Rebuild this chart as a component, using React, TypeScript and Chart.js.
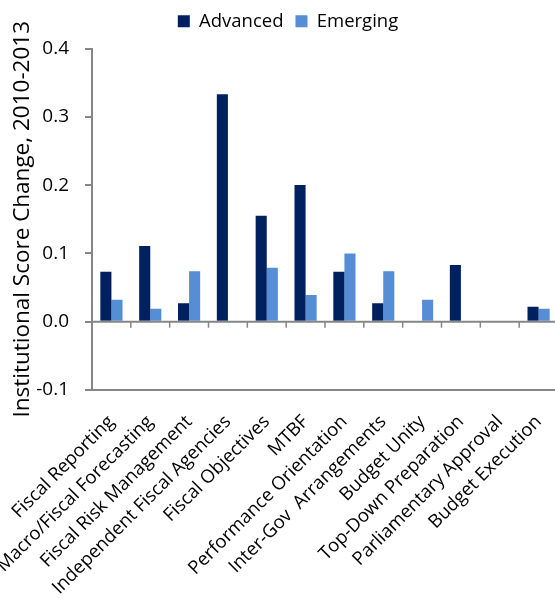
import React, { useEffect, useRef } from "react";
import { Chart, registerables } from "chart.js";

Chart.register(...registerables);

const categories = [
  "Fiscal Reporting",
  "Macro/Fiscal Forecasting",
  "Fiscal Risk Management",
  "Independent Fiscal Agencies",
  "Fiscal Objectives",
  "MTBF",
  "Performance Orientation",
  "Inter-Gov  Arrangements",
  "Budget Unity",
  "Top-Down Preparation",
  "Parliamentary Approval",
  "Budget Execution",
];
const advanced = [0.073, 0.111, 0.027, 0.333, 0.155, 0.2, 0.073, 0.027, 0, 0.083, 0, 0.022];
const emerging = [0.032, 0.019, 0.074, 0, 0.079, 0.039, 0.1, 0.074, 0.032, 0, 0, 0.019];
const yTicks = [-0.1, 0.0, 0.1, 0.2, 0.3, 0.4];

const AXIS = "#868686";
const FONT = "'Open Sans', 'Noto Sans', sans-serif";

const zeroLine = {
  id: "zeroLine",
  afterDatasetsDraw(chart: any) {
    const { ctx, chartArea, scales } = chart;
    const x = scales.x;
    const y = scales.y;
    const y0 = y.getPixelForValue(0);
    const step = x.getPixelForValue(1) - x.getPixelForValue(0);
    ctx.save();
    ctx.strokeStyle = AXIS;
    ctx.lineWidth = 2;
    ctx.beginPath();
    ctx.moveTo(chartArea.left, y0);
    ctx.lineTo(chartArea.right, y0);
    ctx.stroke();
    ctx.lineWidth = 1.5;
    for (let i = 0; i < categories.length; i++) {
      const bx = x.getPixelForValue(i) + step / 2;
      ctx.beginPath();
      ctx.moveTo(bx, y0);
      ctx.lineTo(bx, y0 + 6);
      ctx.stroke();
    }
    ctx.restore();
  },
};

const legendSpace = {
  id: "legendSpace",
  beforeInit(chart: any) {
    const orig = chart.legend.fit;
    chart.legend.fit = function () {
      orig.call(this);
      this.height += 8;
    };
  },
};

export default function App() {
  const ref = useRef<HTMLCanvasElement>(null);
  useEffect(() => {
    if (!ref.current) return;
    const chart = new Chart(ref.current, {
      type: "bar",
      data: {
        labels: categories,
        datasets: [
          { label: "Advanced", data: advanced, backgroundColor: "#002060" },
          { label: "Emerging", data: emerging, backgroundColor: "#558ED5" },
        ],
      },
      options: {
        animation: false,
        responsive: false,
        maintainAspectRatio: false,
        datasets: { bar: { categoryPercentage: 0.571, barPercentage: 1 } },
        layout: { padding: { left: 18, right: 0, top: 0, bottom: 0 } },
        plugins: {
          legend: {
            position: "top",
            labels: {
              boxWidth: 12,
              boxHeight: 12,
              color: "#000",
              font: { family: FONT, size: 18.5 },
              padding: 12,
            },
          },
          tooltip: { enabled: false },
        },
        scales: {
          x: {
            grid: { display: true, drawOnChartArea: false, drawTicks: false },
            border: { display: true, color: AXIS, width: 2 },
            ticks: {
              color: "#000",
              font: { family: FONT, size: 18.5 },
              maxRotation: 45,
              minRotation: 45,
              padding: 21,
              autoSkip: false,
            },
            afterFit(scale: any) {
              scale.height = 209;
              scale.paddingLeft = 0;
              scale.paddingRight = 0;
            },
          },
          y: {
            min: yTicks[0],
            max: yTicks[yTicks.length - 1],
            afterBuildTicks(scale: any) {
              scale.ticks = yTicks.map((v) => ({ value: v }));
            },
            afterFit(scale: any) {
              scale.width = 74;
            },
            grid: { display: true, drawOnChartArea: false, drawTicks: true, tickLength: 7, color: AXIS, lineWidth: 2 },
            border: { display: true, color: AXIS, width: 2 },
            ticks: {
              color: "#000",
              font: { family: FONT, size: 19 },
              padding: 16,
              callback: (v: any) => Number(v).toFixed(1),
            },
            title: {
              display: true,
              text: "Institutional Score Change, 2010-2013",
              color: "#000",
              font: { family: FONT, size: 22.5 },
              padding: { top: -9, bottom: 0 },
            },
          },
        },
      },
      plugins: [zeroLine, legendSpace],
    });
    return () => chart.destroy();
  }, []);
  return (
    <div style={{ position: "absolute", left: 0, top: 0, width: 555, height: 599, overflow: "hidden", background: "#fff" }}>
      <canvas ref={ref} width={558} height={599} style={{ display: "block" }} />
    </div>
  );
}
